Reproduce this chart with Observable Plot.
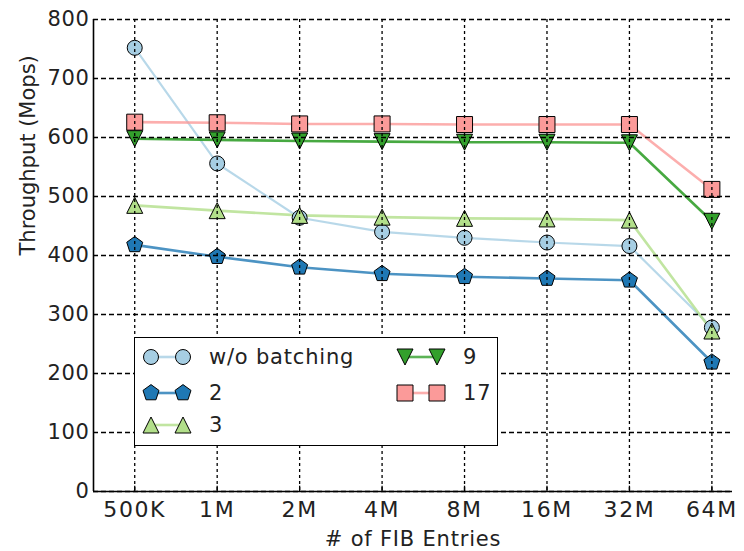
<!DOCTYPE html>
<html>
<head>
<meta charset="utf-8">
<script src="https://cdn.jsdelivr.net/npm/d3@7"></script>
<script src="https://cdn.jsdelivr.net/npm/@observablehq/plot@0.6"></script>
<style>
  body { margin: 0; background: #fff; }
  #wrap { position: relative; width: 744px; height: 551px; font-family: "DejaVu Sans", sans-serif; }
  #wrap svg.plot { display: block; overflow: visible; }
  #wrap svg.plot g.xticks text { letter-spacing: 1.6px; font-size: 22px; }
  #wrap svg.plot g.yticks text { letter-spacing: 0.6px; }
  #wrap svg.plot g.xtitle text { letter-spacing: 0.8px; }
  #legend { position: absolute; background: #fff; border: 1.5px solid #000; box-sizing: border-box; }
  #legend .item { position: absolute; display: flex; align-items: center; font-size: 21px; color: #222; white-space: nowrap; letter-spacing: 0.8px; }
  #legend .item svg { display: block; margin-right: 10px; }
</style>
</head>
<body>
<div id="wrap"></div>
<script>
// ---- data ----
const categories = ["500K", "1M", "2M", "4M", "8M", "16M", "32M", "64M"];
const seriesNames = ["w/o batching", "2", "3", "9", "17"];
const woBatching = [752, 556, 464, 440, 430, 422, 416, 278];
const batch2 = [418, 398, 380, 369, 364, 361, 358, 219];
const batch3 = [485, 476, 468, 465, 463, 462, 460, 272];
const batch9 = [598, 596, 594, 593, 592, 592, 591, 458];
const batch17 = [626, 625, 623, 623, 622, 622, 622, 512];
const yTicks = [0, 100, 200, 300, 400, 500, 600, 700, 800];
const seriesColors = ["#a6cee3", "#1f78b4", "#b2df8a", "#33a02c", "#fb9a99"];

const seriesValues = [woBatching, batch2, batch3, batch9, batch17];

// ---- custom matplotlib-like symbols ----
const rad = size => Math.sqrt(size / Math.PI);
const symCircle = { draw(c, size) { const r = rad(size); c.moveTo(r, 0); c.arc(0, 0, r, 0, 2 * Math.PI); c.closePath(); } };
const symSquare = { draw(c, size) { const r = rad(size); c.moveTo(-r, -r); c.lineTo(r, -r); c.lineTo(r, r); c.lineTo(-r, r); c.closePath(); } };
const symTriUp = { draw(c, size) { const r = rad(size); c.moveTo(0, -r); c.lineTo(r, r); c.lineTo(-r, r); c.closePath(); } };
const symTriDown = { draw(c, size) { const r = rad(size); c.moveTo(0, r); c.lineTo(r, -r); c.lineTo(-r, -r); c.closePath(); } };
const symPentagon = { draw(c, size) { const r = rad(size) * 1.05;
  for (let k = 0; k < 5; k++) { const a = -Math.PI / 2 + k * 2 * Math.PI / 5; const px = r * Math.cos(a), py = r * Math.sin(a); if (k === 0) c.moveTo(px, py); else c.lineTo(px, py); }
  c.closePath(); } };
const seriesSymbols = [symCircle, symPentagon, symTriUp, symTriDown, symSquare];
const seriesR = [7.5, 8, 8, 8, 8];

const rows = [];
seriesNames.forEach((s, k) => seriesValues[k].forEach((v, i) => rows.push({ series: s, k, i, value: v })));

const marks = [];
// lines
seriesNames.forEach((s, k) => {
  marks.push(Plot.line(rows.filter(d => d.k === k), {
    x: "i", y: "value", stroke: seriesColors[k], strokeWidth: k === 0 ? 2.2 : 2.6, strokeOpacity: k === 3 ? 0.9 : 0.8
  }));
});
// markers
seriesNames.forEach((s, k) => {
  marks.push(Plot.dot(rows.filter(d => d.k === k), {
    x: "i", y: "value", symbol: seriesSymbols[k], r: seriesR[k], fill: seriesColors[k], stroke: "#000", strokeWidth: 1
  }));
});
// grid (drawn on top, like the reference)
marks.push(Plot.gridX({ ticks: d3.range(categories.length), stroke: "#000", strokeOpacity: 1, strokeWidth: 1.3, strokeDasharray: "3,3" }));
marks.push(Plot.gridY({ ticks: yTicks, stroke: "#000", strokeOpacity: 1, strokeWidth: 1.3, strokeDasharray: "5,3" }));
// spines
marks.push(Plot.ruleX([-0.5], { stroke: "#000", strokeWidth: 1.6 }));
marks.push(Plot.ruleY([0], { stroke: "#000", strokeWidth: 1.6 }));
// inward ticks
marks.push(Plot.ruleX(d3.range(categories.length), { x: d => d, y1: 0, y2: 9, stroke: "#000", strokeWidth: 1.3 }));
// axes
marks.push(Plot.axisX({ ticks: d3.range(categories.length), tickFormat: i => categories[i], tickSize: 0, tickPadding: 10, fill: "#222", label: null, className: "xticks" }));
marks.push(Plot.axisY({ ticks: yTicks, tickSize: 0, tickPadding: 4, fill: "#222", label: null, className: "yticks" }));
// axis titles
marks.push(Plot.text(["Throughput (Mops)"], { text: d => d, frameAnchor: "left", dx: -65, rotate: -90, fill: "#222" }));
marks.push(Plot.text(["# of FIB Entries"], { text: d => d, frameAnchor: "bottom", dy: 54, fill: "#222", className: "xtitle" }));

const chart = Plot.plot({
  width: 744,
  height: 551,
  marginLeft: 93,
  marginRight: 12,
  marginTop: 19,
  marginBottom: 60,
  x: { type: "linear", domain: [-0.5, 7.25], axis: null },
  y: { domain: [0, 800], axis: null },
  style: { fontFamily: "DejaVu Sans, sans-serif", fontSize: "21px", background: "#fff", overflow: "visible" },
  marks
});
chart.classList.add("plot");
const wrap = document.getElementById("wrap");
wrap.appendChild(chart);

// ---- legend (HTML overlay) ----
const legend = document.createElement("div");
legend.id = "legend";
Object.assign(legend.style, { left: "134px", top: "337px", width: "364px", height: "109px" });
const legendPos = [[4, 19], [4, 55], [4, 87], [258, 19], [258, 55]];
seriesNames.forEach((s, k) => {
  const item = document.createElement("div");
  item.className = "item";
  item.style.left = legendPos[k][0] + "px";
  item.style.top = (legendPos[k][1] - 14) + "px";
  item.style.height = "28px";
  const ns = "http://www.w3.org/2000/svg";
  const svg = document.createElementNS(ns, "svg");
  svg.setAttribute("width", 60); svg.setAttribute("height", 28);
  const line = document.createElementNS(ns, "line");
  line.setAttribute("x1", 12); line.setAttribute("x2", 44); line.setAttribute("y1", 14); line.setAttribute("y2", 14);
  line.setAttribute("stroke", seriesColors[k]); line.setAttribute("stroke-width", 2.6); line.setAttribute("stroke-opacity", 0.8);
  svg.appendChild(line);
  const size = Math.PI * seriesR[k] * seriesR[k];
  [12, 44].forEach(cx => {
    const p = document.createElementNS(ns, "path");
    p.setAttribute("d", d3.symbol(seriesSymbols[k], size)());
    p.setAttribute("transform", `translate(${cx},14)`);
    p.setAttribute("fill", seriesColors[k]); p.setAttribute("stroke", "#000"); p.setAttribute("stroke-width", 1);
    svg.appendChild(p);
  });
  item.appendChild(svg);
  const label = document.createElement("span");
  label.textContent = s;
  item.appendChild(label);
  legend.appendChild(item);
});
wrap.appendChild(legend);
</script>
</body>
</html>
